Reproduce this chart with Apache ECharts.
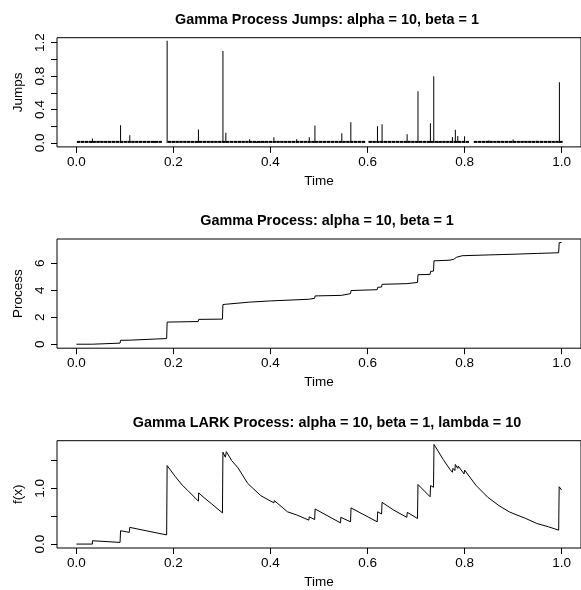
<!DOCTYPE html>
<html>
<head>
<meta charset="utf-8">
<script src="https://cdn.jsdelivr.net/npm/echarts@6/dist/echarts.min.js"></script>
<style>html,body{margin:0;padding:0;background:#fff}#c{width:581px;height:590px}</style>
</head>
<body>
<div id="c"></div>
<script>
// ---- Data ----
var titles = [
  'Gamma Process Jumps: alpha = 10, beta = 1',
  'Gamma Process: alpha = 10, beta = 1',
  'Gamma LARK Process: alpha = 10, beta = 1, lambda = 10'
];
var yNames = ['Jumps', 'Process', 'f(x)'];
var xTicks = [0, 0.2, 0.4, 0.6, 0.8, 1.0];
var jumpTicks = [0, 0.2, 0.4, 0.6, 0.8, 1.0, 1.2];
var jumpLabels = [0, 0.4, 0.8, 1.2];
var procTicks = [0, 2, 4, 6];
var larkTicks = [0, 0.5, 1.0, 1.5];
var larkLabels = [0, 1.0];

// visible jumps (time, size)
var jumpT = [0.033, 0.091, 0.110, 0.161, 0.187, 0.2515, 0.302, 0.308, 0.357, 0.371, 0.380, 0.387, 0.407, 0.454, 0.480, 0.4916, 0.547, 0.5656, 0.6205, 0.630, 0.6816, 0.704, 0.7296, 0.7365, 0.747, 0.766, 0.775, 0.781, 0.786, 0.800, 0.850, 0.900, 0.949, 0.9955];
var jumpV = [0.053, 0.212, 0.092, 0.02, 1.224, 0.16, 1.10, 0.12, 0.044, 0.012, 0.02, 0.02, 0.068, 0.044, 0.068, 0.208, 0.116, 0.248, 0.20, 0.224, 0.104, 0.62, 0.236, 0.797, 0.015, 0.012, 0.072, 0.156, 0.084, 0.08, 0.03, 0.04, 0.025, 0.725];
// tiny jumps forming the baseline
var tinyT = [0.002,0.010,0.018,0.026,0.034,0.042,0.050,0.058,0.066,0.074,0.082,0.090,0.098,0.106,0.114,0.122,0.130,0.138,0.146,0.154,0.162,0.170,
 0.189,0.197,0.205,0.213,0.221,0.229,0.237,0.245,0.253,0.261,0.269,0.277,0.285,0.293,0.301,0.309,0.317,0.325,0.333,0.341,0.349,0.357,0.365,0.373,0.381,0.389,0.397,0.405,0.413,0.421,0.429,0.437,0.445,0.453,0.461,0.469,0.477,0.485,0.493,0.501,0.509,0.517,0.525,0.533,0.541,0.549,0.557,0.565,0.573,0.581,0.589,
 0.603,0.611,0.619,0.627,0.635,0.643,0.651,0.659,0.667,0.675,0.683,0.691,0.699,0.707,0.715,0.723,0.731,0.739,0.747,0.755,0.763,0.771,0.779,0.787,0.795,0.803,
 0.820,0.828,0.836,0.844,0.852,0.860,0.868,0.876,0.884,0.892,0.900,0.908,0.916,0.924,0.932,0.940,0.948,0.956,0.964,0.972,0.980,0.988,0.996];
var tinyV = 0.024;

// cumulative process path vertices
var procT = [0.000, 0.033, 0.033, 0.090, 0.091, 0.110, 0.110, 0.186, 0.187, 0.251, 0.252, 0.301, 0.302, 0.307, 0.308, 0.357, 0.400, 0.478, 0.480, 0.491, 0.492, 0.546, 0.547, 0.565, 0.566, 0.620, 0.621, 0.629, 0.630, 0.681, 0.682, 0.703, 0.704, 0.729, 0.730, 0.736, 0.737, 0.770, 0.778, 0.783, 0.795, 0.850, 0.900, 0.950, 0.994, 0.995, 1.000];
var procV = [0.00, 0.00, 0.06, 0.08, 0.29, 0.30, 0.39, 0.42, 1.64, 1.68, 1.84, 1.86, 2.94, 2.96, 3.05, 3.12, 3.21, 3.33, 3.38, 3.40, 3.58, 3.62, 3.72, 3.75, 3.98, 4.04, 4.22, 4.24, 4.44, 4.49, 4.56, 4.58, 5.15, 5.18, 5.40, 5.42, 6.18, 6.23, 6.30, 6.44, 6.56, 6.62, 6.67, 6.73, 6.78, 7.52, 7.55];

// LARK process path vertices
var larkT = [0.000, 0.033, 0.033, 0.090, 0.091, 0.109, 0.110, 0.160, 0.186, 0.187, 0.204, 0.218, 0.231, 0.2515, 0.252, 0.265, 0.279, 0.301, 0.302, 0.307, 0.309, 0.320, 0.333, 0.353, 0.356, 0.357, 0.380, 0.407, 0.408, 0.435, 0.455, 0.479, 0.480, 0.491, 0.492, 0.5445, 0.545, 0.565, 0.566, 0.620, 0.621, 0.629, 0.630, 0.654, 0.681, 0.682, 0.703, 0.704, 0.729, 0.730, 0.736, 0.737, 0.756, 0.770, 0.775, 0.776, 0.780, 0.781, 0.786, 0.787, 0.799, 0.800, 0.824, 0.848, 0.850, 0.871, 0.892, 0.900, 0.901, 0.926, 0.949, 0.950, 0.973, 0.994, 0.995, 1.000];
var larkV = [0.00, 0.00, 0.06, 0.03, 0.24, 0.21, 0.30, 0.21, 0.165, 1.41, 1.21, 1.06, 0.95, 0.77, 0.92, 0.82, 0.72, 0.56, 1.65, 1.56, 1.66, 1.50, 1.37, 1.09, 1.07, 1.10, 0.87, 0.74, 0.78, 0.58, 0.52, 0.43, 0.49, 0.44, 0.63, 0.38, 0.48, 0.40, 0.65, 0.40, 0.58, 0.54, 0.75, 0.61, 0.48, 0.57, 0.46, 1.07, 0.85, 1.05, 1.02, 1.79, 1.52, 1.34, 1.29, 1.36, 1.32, 1.43, 1.36, 1.40, 1.26, 1.33, 1.05, 0.84, 0.85, 0.69, 0.58, 0.55, 0.57, 0.46, 0.37, 0.39, 0.31, 0.25, 1.03, 0.97];

// ---- Build options ----
function zip(a, b) { return a.map(function (v, i) { return [v, b[i]]; }); }
var FONT = 'Liberation Sans, Arial, Helvetica, sans-serif';
var panels = [
  { top: 37.7, ymin: -0.048, ymax: 1.26, ticks: jumpTicks, labels: jumpLabels, fmt: function (v) { return v.toFixed(1); } },
  { top: 239, ymin: -0.296, ymax: 7.8, ticks: procTicks, labels: procTicks, fmt: function (v) { return String(Math.round(v)); } },
  { top: 440.7, ymin: -0.0705, ymax: 1.857, ticks: larkTicks, labels: larkLabels, fmt: function (v) { return v.toFixed(1); } }
];
var grid = [], xAxis = [], yAxis = [], title = [];
panels.forEach(function (p, i) {
  grid.push({ left: 57, top: p.top, width: 530.7, height: 109.2, show: true, borderColor: '#000', borderWidth: 1, backgroundColor: 'transparent' });
  title.push({ text: titles[i], left: 322, top: p.top - 31, textAlign: 'center',
    textStyle: { fontFamily: FONT, fontWeight: 'bold', fontSize: 14.4, color: '#000', lineHeight: 16 } });
  xAxis.push({ gridIndex: i, type: 'value', min: -0.04, max: 1.04,
    axisLine: { show: false, onZero: false }, splitLine: { show: false },
    axisTick: { show: true, length: 6, customValues: xTicks, lineStyle: { color: '#000', width: 1 } },
    axisLabel: { customValues: xTicks, margin: 8, color: '#000', fontFamily: FONT, fontSize: 13.5,
      formatter: function (v) { return v.toFixed(1); } },
    name: 'Time', nameLocation: 'middle', nameGap: 27,
    nameTextStyle: { color: '#000', fontFamily: FONT, fontSize: 13.5 } });
  yAxis.push({ gridIndex: i, type: 'value', min: p.ymin, max: p.ymax,
    axisLine: { show: false, onZero: false }, splitLine: { show: false },
    axisTick: { show: true, length: 6, customValues: p.ticks, lineStyle: { color: '#000', width: 1 } },
    axisLabel: { customValues: p.labels, rotate: 90, margin: 10, color: '#000', fontFamily: FONT, fontSize: 13.5,
      formatter: p.fmt },
    name: yNames[i], nameLocation: 'middle', nameRotate: 90, nameGap: 29,
    nameTextStyle: { color: '#000', fontFamily: FONT, fontSize: 13.5 } });
});

var chart = echarts.init(document.getElementById('c'), null, { renderer: 'canvas' });
chart.setOption({
  animation: false,
  backgroundColor: '#fff',
  title: title,
  grid: grid,
  xAxis: xAxis,
  yAxis: yAxis,
  series: [
    { type: 'bar', xAxisIndex: 0, yAxisIndex: 0, barWidth: 3.5, barGap: '-100%',
      data: tinyT.map(function (t) { return [t, tinyV]; }),
      itemStyle: { color: '#000' }, silent: true },
    { type: 'bar', xAxisIndex: 0, yAxisIndex: 0, barWidth: 1, barGap: '-100%',
      data: zip(jumpT, jumpV), itemStyle: { color: '#000' }, silent: true },
    { type: 'line', xAxisIndex: 1, yAxisIndex: 1, data: zip(procT, procV), showSymbol: false,
      lineStyle: { color: '#000', width: 1 }, silent: true },
    { type: 'line', xAxisIndex: 2, yAxisIndex: 2, data: zip(larkT, larkV), showSymbol: false,
      lineStyle: { color: '#000', width: 1 }, silent: true }
  ]
});
</script>
</body>
</html>
